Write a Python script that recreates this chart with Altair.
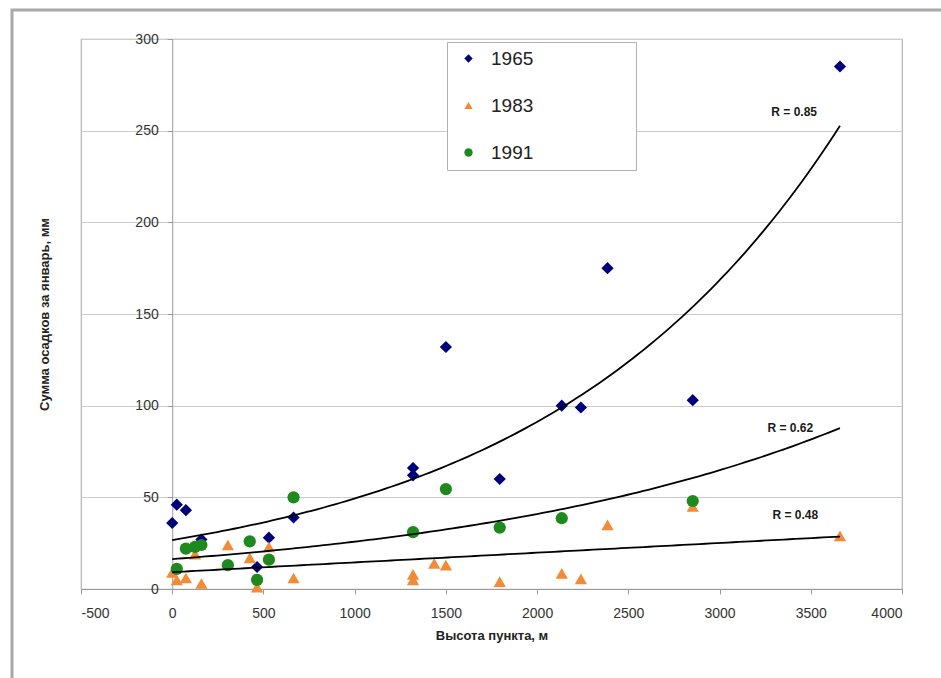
import altair as alt
import numpy as np
import pandas as pd

FONT = "Liberation Sans, Arial, sans-serif"

# Series order, colours and marker shapes
YEARS = ["1965", "1983", "1991"]
COLORS = ["#00007a", "#f28a36", "#1e8a1e"]
SHAPES = ["diamond", "triangle-up", "circle"]

# Station elevation (m) and January precipitation (mm) per year
elev_1965 = [0, 25, 75, 160, 465, 530, 665, 1320, 1320, 1500, 1795, 2135, 2240, 2386, 2853, 3660]
prec_1965 = [36, 46, 43, 27, 12, 28, 39, 66, 62, 132, 60, 100, 99, 175, 103, 285]

elev_1983 = [0, 25, 75, 125, 160, 305, 425, 465, 530, 665, 1320, 1320, 1436, 1500,
             1795, 2135, 2240, 2386, 2853, 3660]
prec_1983 = [9, 5, 6, 19, 3, 24, 17, 1, 23, 6, 8, 5, 14, 13, 4, 8.5, 5.5, 35, 45, 29]

elev_1991 = [25, 75, 125, 160, 305, 425, 465, 530, 665, 1320, 1500, 1795, 2135, 2853]
prec_1991 = [11, 22, 23, 24, 13, 26, 5, 16, 50, 31, 54.5, 33.5, 38.6, 48]

# Trend lines: kind, intercept a and coefficient b (exp: a*e^(b*x), linear: a + b*x)
TREND_KIND = ["exp", "linear", "exp"]
TREND_A = [26.7, 9.2, 16.3]
TREND_B = [6.14e-4, 0.0053, 4.6e-4]
TREND_X_END = 3660

# Correlation labels
R_TEXT = ["R = 0.85", "R = 0.48", "R = 0.62"]
R_X = [3409, 3415, 3388]
R_Y = [260, 40.5, 88]

X_TICKS = list(range(-500, 4001, 500))
Y_TICKS = list(range(0, 301, 50))

PLOT_W, PLOT_H = 821, 550
PAD_L, PAD_T = 81, 39

series = [(elev_1965, prec_1965), (elev_1983, prec_1983), (elev_1991, prec_1991)]
points = pd.concat(
    [pd.DataFrame({"elev": e, "prec": p, "year": y}) for (e, p), y in zip(series, YEARS)],
    ignore_index=True,
)

xs = np.linspace(0, TREND_X_END, 120)
trend_frames = []
for y, kind, a, b in zip(YEARS, TREND_KIND, TREND_A, TREND_B):
    ys = a * np.exp(b * xs) if kind == "exp" else a + b * xs
    trend_frames.append(pd.DataFrame({"elev": xs, "prec": ys, "year": y}))
trends = pd.concat(trend_frames, ignore_index=True)

labels = pd.DataFrame({"elev": R_X, "prec": R_Y, "text": R_TEXT})

x_scale = alt.Scale(domain=[-500, 4000], nice=False, zero=False)
y_scale = alt.Scale(domain=[0, 300], nice=False)

x_enc = alt.X(
    "elev:Q",
    scale=x_scale,
    axis=alt.Axis(
        title="Высота пункта, м",
        values=X_TICKS,
        labelExpr="'' + datum.value",
        grid=False,
        tickSize=5,
        labelPadding=12,
        titlePadding=9,
    ),
)
y_enc = alt.Y(
    "prec:Q",
    scale=y_scale,
    axis=alt.Axis(
        title="Сумма осадков за январь, мм",
        values=Y_TICKS,
        labelExpr="'' + datum.value",
        grid=True,
        offset=-(PLOT_W * 500 / 4500),
        tickSize=5,
        labelPadding=9,
        titlePadding=83,
    ),
)

# Outer chart border
frame = alt.Chart(alt.Data(values=[{}])).mark_rect(
    filled=False, stroke="#a8a8a8", strokeWidth=3, clip=False
).encode(
    x=alt.value(12 - PAD_L),
    x2=alt.value(946 - PAD_L),
    y=alt.value(10 - PAD_T),
    y2=alt.value(700 - PAD_T),
)

# Label padding keeps the legend box wide; the zero-width space stops trimming
LEGEND_LABEL = "datum.label + '" + " " * 18 + "\u200b'"

pts = alt.Chart(points).mark_point(filled=True, opacity=1, size=150).encode(
    x=x_enc,
    y=y_enc,
    color=alt.Color(
        "year:N",
        scale=alt.Scale(domain=YEARS, range=COLORS),
        legend=alt.Legend(
            title=None,
            orient="none",
            legendX=447 - PAD_L,
            legendY=42 - PAD_T,
            padding=7,
            fillColor="white",
            strokeColor="#b0b0b0",
            labelFont=FONT,
            labelFontSize=19,
            labelColor="#222222",
            symbolSize=70,
            symbolStrokeWidth=0,
            symbolOffset=5,
            labelOffset=13,
            rowPadding=27,
            labelExpr=LEGEND_LABEL,
        ),
    ),
    shape=alt.Shape("year:N", scale=alt.Scale(domain=YEARS, range=SHAPES), legend=None),
)

lines = alt.Chart(trends).mark_line(color="black", strokeWidth=1.8).encode(
    x=alt.X("elev:Q", scale=x_scale),
    y=alt.Y("prec:Q", scale=y_scale),
    detail="year:N",
)

text = alt.Chart(labels).mark_text(
    font=FONT, fontSize=12, fontWeight="bold", color="#1a1a1a"
).encode(
    x=alt.X("elev:Q", scale=x_scale),
    y=alt.Y("prec:Q", scale=y_scale),
    text="text:N",
)

chart = (
    alt.layer(frame, pts, lines, text)
    .properties(
        width=PLOT_W,
        height=PLOT_H,
        autosize=alt.AutoSizeParams(type="none"),
        padding={"left": PAD_L, "top": PAD_T, "right": 941 - PAD_L - PLOT_W, "bottom": 678 - PAD_T - PLOT_H},
        background="white",
    )
    .configure_view(stroke="#b4b4b4", strokeWidth=1.2)
    .configure_axis(
        labelFont=FONT,
        labelFontSize=14,
        labelColor="#333333",
        titleFont=FONT,
        titleFontSize=13,
        titleFontWeight="bold",
        titleColor="#222222",
        domainColor="#9a9a9a",
        tickColor="#9a9a9a",
        gridColor="#cccccc",
        gridWidth=1.2,
    )
)

chart.save("out.html", embed_options={"renderer": "svg", "actions": False})
